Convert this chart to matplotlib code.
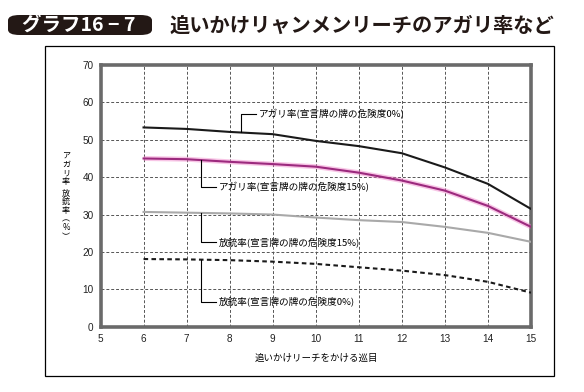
import matplotlib
matplotlib.use("Agg")
import matplotlib.pyplot as plt
from matplotlib.patches import FancyBboxPatch, Rectangle

plt.rcParams['font.family'] = ['Noto Sans CJK JP', 'DejaVu Sans']

# ---- data ----
turns = [6, 7, 8, 9, 10, 11, 12, 13, 14, 15]
agari_0 = [53.3, 52.9, 52.1, 51.5, 49.7, 48.3, 46.4, 42.6, 38.2, 31.5]
agari_15 = [45.0, 44.8, 44.1, 43.5, 42.8, 41.2, 39.1, 36.4, 32.3, 26.7]
houju_15 = [30.7, 30.5, 30.3, 30.0, 29.2, 28.5, 28.0, 26.7, 25.1, 22.7]
houju_0 = [18.1, 18.0, 17.8, 17.4, 16.8, 15.9, 15.0, 13.8, 12.0, 9.1]

label_a0 = "アガリ率(宣言牌の牌の危険度0%)"
label_a15 = "アガリ率(宣言牌の牌の危険度15%)"
label_h15 = "放銃率(宣言牌の牌の危険度15%)"
label_h0 = "放銃率(宣言牌の牌の危険度0%)"

xticks = [5, 6, 7, 8, 9, 10, 11, 12, 13, 14, 15]
yticks = [0, 10, 20, 30, 40, 50, 60, 70]
xlabel = "追いかけリーチをかける巡目"
ylabel_chars = ['ア', 'ガ', 'リ', '率', '放', '銃', '率', '︵', '%', '︶']
title_tag = "グラフ16 − 7"
title_text = "追いかけリャンメンリーチのアガリ率など"

W, H = 584, 392
fig = plt.figure(figsize=(W / 100, H / 100), dpi=100)

def fx(px):
    return px / W

def fy(py):
    return 1 - py / H

# outer frame
fig.patches.append(Rectangle((fx(45), fy(376)), fx(554) - fx(45), fy(46) - fy(376),
                             transform=fig.transFigure, fill=False, ec='black', lw=0.9))

# title tag
fig.patches.append(FancyBboxPatch((fx(8), fy(35)), fx(152) - fx(8), fy(15) - fy(35),
                                  boxstyle="round,pad=0,rounding_size=0.02",
                                  transform=fig.transFigure, fc='#231815', ec='none',
                                  mutation_aspect=H / W))
fig.text(fx(79), fy(25), title_tag, color='white', fontsize=14, fontweight='bold',
         ha='center', va='center')
fig.text(fx(170), fy(25), title_text, color='#231815', fontsize=14.6, fontweight='bold',
         ha='left', va='center')

ax = fig.add_axes([fx(100.5), fy(326.7), fx(531) - fx(100.5), fy(65) - fy(326.7)])
ax.set_xlim(5, 15)
ax.set_ylim(0, 70)

for s in ax.spines.values():
    s.set_color('#6a6a6a')
    s.set_linewidth(2.6)

ax.set_xticks(xticks)
ax.set_yticks(yticks)
ax.tick_params(length=0, pad=5, labelsize=7.2, colors='#222222')
for lab in ax.get_xticklabels() + ax.get_yticklabels():
    lab.set_family(['Liberation Sans Narrow', 'Liberation Sans', 'DejaVu Sans'])
ax.grid(True, linestyle=(0, (3, 2)), color='#555555', linewidth=0.7)
ax.set_axisbelow(True)

# series
ax.plot(turns, agari_0, color='#1a1a1a', lw=1.5, zorder=3)
ax.plot(turns, agari_15, color='#f080c8', lw=3.6, alpha=0.45, zorder=3, solid_capstyle='butt')
ax.plot(turns, agari_15, color='#9c2a7e', lw=1.5, zorder=4)
ax.plot(turns, houju_15, color='#a9a9a9', lw=1.5, zorder=3)
ax.plot(turns, houju_0, color='#1a1a1a', lw=1.5, linestyle=(0, (2.2, 1.6)), zorder=3)

# annotation leaders
ann_fs = 6.9
def leader(xv, y_from, y_to, x_end, text):
    ax.plot([xv, xv, x_end], [y_from, y_to, y_to], color='black', lw=0.8, zorder=5)
    ax.text(x_end + 0.05, y_to, text, fontsize=ann_fs, ha='left', va='center', zorder=5)

leader(8.27, 52.0, 56.9, 8.62, label_a0)
leader(7.34, 44.7, 37.3, 7.69, label_a15)
leader(7.34, 30.4, 22.7, 7.69, label_h15)
leader(7.34, 17.9, 6.7, 7.69, label_h0)

# x label
fig.text(fx(316), fy(358), xlabel, fontsize=6.8, ha='center', va='center')

# vertical y label
ys = [156, 164.5, 173, 181.5, 193, 201.5, 210, 219, 227.5, 236.5]
for ch, y in zip(ylabel_chars, ys):
    fig.text(fx(66), fy(y), ch, fontsize=5.8, ha='center', va='center')

fig.savefig('out.png', dpi=100)
